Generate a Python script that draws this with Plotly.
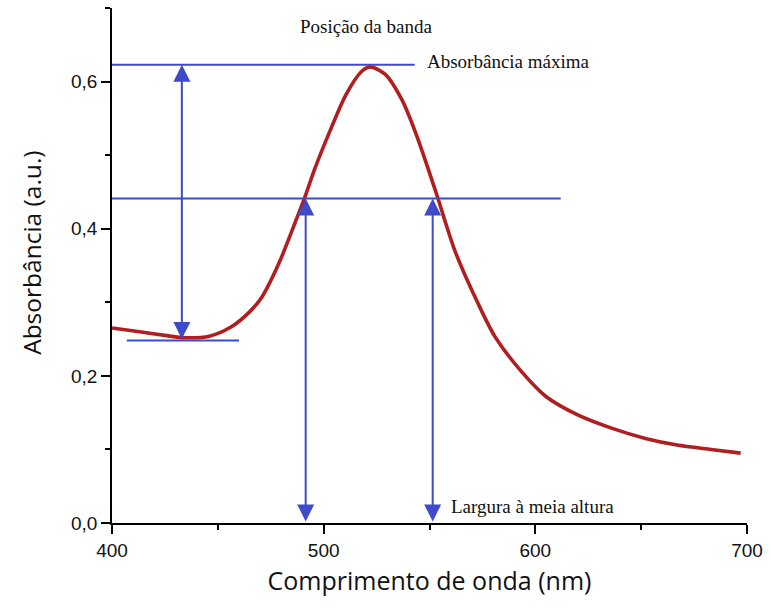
import plotly.graph_objects as go

# ---- data ----
wavelength_nm = [400, 413, 425, 433, 446, 456, 465, 471, 479, 487, 491, 496, 503, 510.5,
                 518, 522, 529, 537, 543.5, 550, 554, 562, 573, 581, 594, 605, 620,
                 636, 652, 667, 683, 697]
absorbance = [0.265, 0.260, 0.255, 0.252, 0.254, 0.266, 0.287, 0.308, 0.354, 0.412, 0.442,
              0.483, 0.533, 0.582, 0.614, 0.620, 0.610, 0.575, 0.530, 0.476, 0.441, 0.370,
              0.298, 0.253, 0.204, 0.172, 0.147, 0.129, 0.115, 0.106, 0.100, 0.095]

peak_nm = 522
peak_abs = 0.623
base_abs = 0.248
half_abs = 0.441
half_left_nm = 491.5
half_right_nm = 551.5
base_arrow_nm = 433
max_line_end_nm = 543
half_line_end_nm = 612
base_line_nm = [407, 460]

x_ticks = [400, 500, 600, 700]
y_ticks = [0.0, 0.2, 0.4, 0.6]
y_tick_labels = ["0,0", "0,2", "0,4", "0,6"]

label_band = "Posição da banda"
label_max = "Absorbância máxima"
label_fwhm = "Largura à meia altura"
x_title = "Comprimento de onda (nm)"
y_title = "Absorbância (a.u.)"

RED = "#B01E20"
BLUE = "#3F4AC8"

fig = go.Figure()
fig.add_trace(go.Scatter(x=wavelength_nm, y=absorbance, mode="lines",
                         line=dict(color=RED, width=3.6, shape="spline", smoothing=0.8),
                         showlegend=False, hoverinfo="skip"))

# horizontal reference lines
for x0, x1, yv in [(400, max_line_end_nm, peak_abs), (400, half_line_end_nm, half_abs),
                   (base_line_nm[0], base_line_nm[1], base_abs)]:
    fig.add_shape(type="line", x0=x0, x1=x1, y0=yv, y1=yv, xref="x", yref="y",
                  line=dict(color=BLUE, width=2))

# double-headed arrows
arrow_common = dict(xref="x", yref="y", axref="x", ayref="y", showarrow=True, text="",
                    arrowhead=2, startarrowhead=2, arrowside="end+start",
                    arrowsize=1.7, startarrowsize=1.7, arrowwidth=2, arrowcolor=BLUE,
                    standoff=0, startstandoff=0)
fig.add_annotation(x=base_arrow_nm, y=peak_abs, ax=base_arrow_nm, ay=base_abs, **arrow_common)
fig.add_annotation(x=half_left_nm, y=half_abs, ax=half_left_nm, ay=0.0, **arrow_common)
fig.add_annotation(x=half_right_nm, y=half_abs, ax=half_right_nm, ay=0.0, **arrow_common)

serif = dict(family="Liberation Serif, Times New Roman, serif", size=19, color="#111111")
fig.add_annotation(x=peak_nm - 2, y=0.675, text=label_band, showarrow=False, xref="x", yref="y",
                   xanchor="center", yanchor="middle", font=serif)
fig.add_annotation(x=548, y=0.627, text=label_max, showarrow=False, xref="x", yref="y",
                   xanchor="left", yanchor="middle", font=serif)
fig.add_annotation(x=559, y=0.022, text=label_fwhm, showarrow=False, xref="x", yref="y",
                   xanchor="left", yanchor="middle", font=serif)

tick_font = dict(family="Liberation Sans, Arial, sans-serif", size=19, color="#111111")
xtitle_font = dict(family="Open Sans, sans-serif", size=25, color="#111111")
ytitle_font = dict(family="Open Sans, sans-serif", size=24.5, color="#111111")

# y-axis title placed as rotated text (slightly above the plot centre, as in the reference)
fig.add_annotation(x=-0.128, y=0.524, xref="paper", yref="paper", text=y_title,
                   textangle=-90, showarrow=False, xanchor="center", yanchor="middle",
                   font=ytitle_font)

fig.update_xaxes(range=[400, 700], tickvals=x_ticks, ticks="outside", ticklen=9, tickwidth=1.5,
                 tickcolor="black", showline=True, linecolor="black", linewidth=1.5,
                 showgrid=False, zeroline=False, tickfont=tick_font,
                 minor=dict(dtick=50, tick0=400, ticks="outside", ticklen=5, tickwidth=1.5,
                            tickcolor="black", showgrid=False),
                 title=dict(text=x_title, font=xtitle_font, standoff=13))
fig.update_yaxes(range=[0, 0.7], tickvals=y_ticks, ticktext=y_tick_labels, ticks="outside",
                 ticklen=9, tickwidth=1.5, tickcolor="black", showline=True, linecolor="black",
                 linewidth=1.5, showgrid=False, zeroline=False, tickfont=tick_font,
                 minor=dict(dtick=0.1, tick0=0, ticks="outside", ticklen=5, tickwidth=1.5,
                            tickcolor="black", showgrid=False))

fig.update_layout(width=771, height=608, margin=dict(l=112, r=22, t=8, b=85),
                  plot_bgcolor="white", paper_bgcolor="white", showlegend=False)

fig.write_html("out.html")
